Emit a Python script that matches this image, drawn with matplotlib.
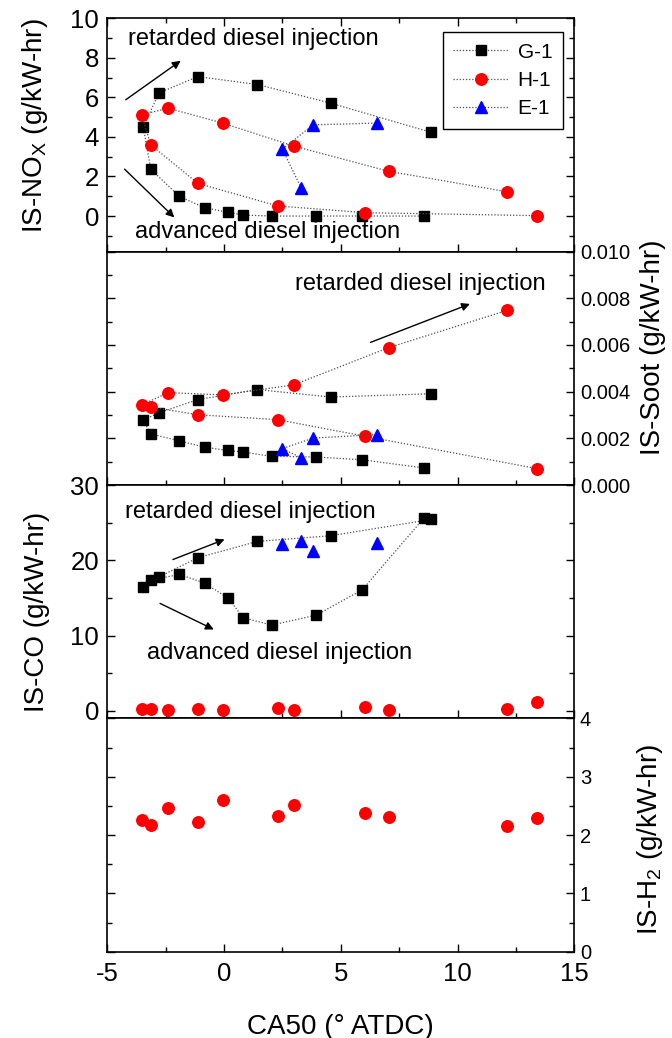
import numpy as np
import matplotlib
matplotlib.use("Agg")
import matplotlib.pyplot as plt
from matplotlib.ticker import MultipleLocator

plt.rcParams['font.family'] = ['Liberation Sans', 'DejaVu Sans']
plt.rcParams['mathtext.fontset'] = 'custom'
plt.rcParams['mathtext.rm'] = 'Liberation Sans'
plt.rcParams['mathtext.it'] = 'Liberation Sans:italic'
plt.rcParams['axes.unicode_minus'] = False

# CA50 sweep, points listed in the order they are joined (retarded -> advanced)
ca50_g1 = [8.88, 4.56, 1.43, -1.12, -2.78, -3.46, -3.14, -1.91, -0.83, 0.17, 0.83, 2.04, 3.95, 5.92, 8.57]
nox_g1 = [4.23, 5.71, 6.65, 7.05, 6.23, 4.51, 2.37, 0.99, 0.42, 0.19, 0.05, 0.0, 0.0, 0.0, 0.0]
soot_g1 = [0.00391, 0.00377, 0.00409, 0.00366, 0.00310, 0.00278, 0.00219, 0.00189, 0.00162,
           0.00148, 0.00141, 0.00123, 0.00120, 0.00108, 0.00073]
co_g1 = [25.43, 23.26, 22.51, 20.34, 17.81, 16.39, 17.37, 18.12, 16.97, 14.98, 12.36, 11.39, 12.72, 16.08, 25.65]

ca50_h1 = [12.11, 7.06, 2.98, -0.06, -2.39, -3.53, -3.14, -1.12, 2.30, 6.03, 13.42]
nox_h1 = [1.23, 2.26, 3.54, 4.70, 5.45, 5.12, 3.60, 1.65, 0.51, 0.17, 0.02]
soot_h1 = [0.00748, 0.00589, 0.00429, 0.00386, 0.00396, 0.00343, 0.00334, 0.00301, 0.00280, 0.00209, 0.00070]
co_h1 = [0.18, 0.13, 0.13, 0.13, 0.09, 0.18, 0.18, 0.27, 0.40, 0.53, 1.24]
h2_h1 = [2.16, 2.31, 2.52, 2.60, 2.47, 2.25, 2.18, 2.22, 2.33, 2.37, 2.29]

ca50_e1 = [3.31, 2.50, 3.81, 6.53]
nox_e1 = [1.40, 3.38, 4.61, 4.70]
soot_e1 = [0.00116, 0.00156, 0.00201, 0.00216]
co_e1 = [22.60, 22.11, 21.27, 22.33]

TICK = 18.5
RTICK = 14.5
NOTE = 17
LBL = 20

# marker style per fuel
styles = {
    'G-1': dict(marker='s', markersize=7, color='black'),
    'H-1': dict(marker='o', markersize=8.3, color='red'),
    'E-1': dict(marker='^', markersize=9, color='blue'),
}


def plot_series(ax, x, y, name, joined=True):
    st = styles[name]
    if joined:
        ax.plot(x, y, color='0.3', linestyle=(0, (1, 1.5)), linewidth=0.9,
                marker=st['marker'], markersize=st['markersize'],
                markerfacecolor=st['color'], markeredgecolor=st['color'], label=name)
    else:
        ax.plot(x, y, linestyle='none', marker=st['marker'], markersize=st['markersize'],
                color=st['color'], label=name)


def right_axis(ax, label, xpos, ypos):
    ax.tick_params(axis='y', labelleft=False, labelright=True, labelsize=RTICK, pad=4)
    ax.yaxis.set_label_position('right')
    ax.set_ylabel(label, fontsize=LBL)
    ax.yaxis.set_label_coords(xpos, ypos)


fig = plt.figure(figsize=(6.72, 10.38), dpi=100)
gs = fig.add_gridspec(4, 1, left=0.1597, right=0.8546, top=0.9824, bottom=0.0831, hspace=0)
axs = [fig.add_subplot(gs[i]) for i in range(4)]

for ax in axs:
    ax.set_xlim(-5, 15)
    ax.xaxis.set_major_locator(MultipleLocator(5))
    ax.xaxis.set_minor_locator(MultipleLocator(2.5))
    ax.tick_params(which='both', direction='in', left=True, right=True, top=False, bottom=True,
                   labelbottom=False, width=1.0, labelsize=TICK, pad=6)
    ax.tick_params(which='major', length=6)
    ax.tick_params(which='minor', length=3.5)
    for sp in ax.spines.values():
        sp.set_linewidth(1.2)
axs[0].tick_params(which='both', top=True)
axs[3].tick_params(axis='x', labelbottom=True, pad=7.5)

arrow = dict(arrowstyle='-|>', color='black', lw=1.0, mutation_scale=12, shrinkA=0, shrinkB=0)

# NOx
ax = axs[0]
plot_series(ax, ca50_g1, nox_g1, 'G-1')
plot_series(ax, ca50_h1, nox_h1, 'H-1')
plot_series(ax, ca50_e1, nox_e1, 'E-1')
ax.set_ylim(-1.8, 10)
ax.yaxis.set_major_locator(MultipleLocator(2))
ax.yaxis.set_minor_locator(MultipleLocator(1))
ax.set_ylabel(r'IS-NO$_\mathrm{X}$ (g/kW-hr)', fontsize=LBL)
ax.yaxis.set_label_coords(-0.123, 0.54)
leg = ax.legend(loc='upper right', bbox_to_anchor=(0.975, 0.94), borderaxespad=0, fontsize=15,
                fancybox=False, edgecolor='black', framealpha=1, handlelength=2.7,
                handletextpad=0.4, labelspacing=0.45, borderpad=0.5)
leg.get_frame().set_linewidth(1.0)
ax.text(-4.1, 8.95, 'retarded diesel injection', fontsize=NOTE, va='center', ha='left')
ax.text(-3.8, -0.8, 'advanced diesel injection', fontsize=NOTE, va='center', ha='left')
ax.annotate('', xy=(-1.86, 7.85), xytext=(-4.21, 5.88), arrowprops=arrow)
ax.annotate('', xy=(-2.13, -0.07), xytext=(-4.26, 2.37), arrowprops=arrow)

# Soot
ax = axs[1]
plot_series(ax, ca50_g1, soot_g1, 'G-1')
plot_series(ax, ca50_h1, soot_h1, 'H-1')
plot_series(ax, ca50_e1, soot_e1, 'E-1')
ax.set_ylim(0, 0.010)
ax.yaxis.set_major_locator(MultipleLocator(0.002))
ax.yaxis.set_minor_locator(MultipleLocator(0.001))
ax.yaxis.set_major_formatter(lambda v, p: f'{v:.3f}')
right_axis(ax, 'IS-Soot (g/kW-hr)', 1.14, 0.59)
ax.text(3.05, 0.00862, 'retarded diesel injection', fontsize=NOTE, va='center', ha='left')
ax.annotate('', xy=(10.53, 0.00776), xytext=(6.27, 0.00611), arrowprops=arrow)

# CO
ax = axs[2]
plot_series(ax, ca50_g1, co_g1, 'G-1')
plot_series(ax, ca50_h1, co_h1, 'H-1', joined=False)
plot_series(ax, ca50_e1, co_e1, 'E-1', joined=False)
ax.set_ylim(-1, 30)
ax.yaxis.set_major_locator(MultipleLocator(10))
ax.yaxis.set_minor_locator(MultipleLocator(5))
ax.set_ylabel('IS-CO (g/kW-hr)', fontsize=LBL)
ax.yaxis.set_label_coords(-0.123, 0.455)
ax.text(-4.26, 26.45, 'retarded diesel injection', fontsize=NOTE, va='center', ha='left')
ax.text(-3.29, 7.62, 'advanced diesel injection', fontsize=NOTE, va='center', ha='left')
ax.annotate('', xy=(0.02, 22.77), xytext=(-2.19, 20.1), arrowprops=arrow)
ax.annotate('', xy=(-0.44, 10.81), xytext=(-2.74, 14.27), arrowprops=arrow)

# H2
ax = axs[3]
plot_series(ax, ca50_h1, h2_h1, 'H-1', joined=False)
ax.set_ylim(0, 4)
ax.yaxis.set_major_locator(MultipleLocator(1))
ax.yaxis.set_minor_locator(MultipleLocator(0.5))
right_axis(ax, r'IS-H$_2$ (g/kW-hr)', 1.13, 0.48)
ax.set_xlabel('CA50 (° ATDC)', fontsize=LBL, labelpad=20)

fig.savefig('out.png', dpi=100)
